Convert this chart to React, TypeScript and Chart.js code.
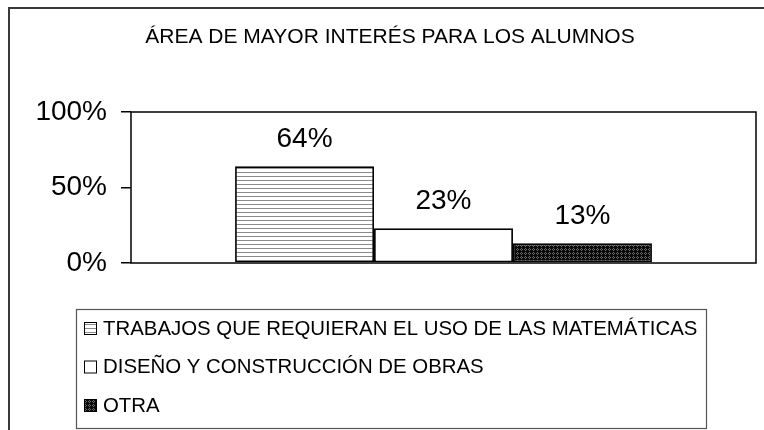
import { useEffect, useRef } from "react";
import { Chart, registerables } from "chart.js";

Chart.register(...registerables);

const categories = ["ÁREA DE MAYOR INTERÉS"];
const seriesNames = [
  "TRABAJOS QUE REQUIERAN EL USO DE LAS MATEMÁTICAS",
  "DISEÑO Y CONSTRUCCIÓN DE OBRAS",
  "OTRA",
];
const seriesValues = [[0.64], [0.23], [0.13]];
const yTickValues = [0, 0.5, 1];
const titleText = "ÁREA DE MAYOR INTERÉS PARA LOS ALUMNOS";

const FONT = "'Liberation Sans', Arial, sans-serif";

function hatchPattern(): CanvasPattern {
  const c = document.createElement("canvas");
  c.width = 4;
  c.height = 4;
  const g = c.getContext("2d")!;
  g.fillStyle = "#ffffff";
  g.fillRect(0, 0, 4, 4);
  g.fillStyle = "#8a8a8a";
  g.fillRect(0, 0, 4, 1);
  return g.createPattern(c, "repeat")!;
}

function dotPattern(): CanvasPattern {
  const c = document.createElement("canvas");
  c.width = 4;
  c.height = 4;
  const g = c.getContext("2d")!;
  g.fillStyle = "#0a0a0a";
  g.fillRect(0, 0, 4, 4);
  g.fillStyle = "#6a6a6a";
  [[1, 0], [0, 1], [2, 1], [1, 2]].forEach(([x, y]) => g.fillRect(x, y, 1, 1));
  return g.createPattern(c, "repeat")!;
}

export default function App() {
  const ref = useRef<HTMLCanvasElement | null>(null);

  useEffect(() => {
    if (!ref.current) return;
    const fills: (CanvasPattern | string)[] = [hatchPattern(), "#ffffff", dotPattern()];

    const framePlugin = {
      id: "frame",
      beforeDraw(chart: any) {
        const ctx = chart.ctx as CanvasRenderingContext2D;
        ctx.save();
        ctx.fillStyle = "#ffffff";
        ctx.fillRect(0, 0, chart.width, chart.height);
        ctx.strokeStyle = "#3a3a3a";
        ctx.lineWidth = 2;
        ctx.beginPath();
        ctx.moveTo(9, chart.height);
        ctx.lineTo(9, 8);
        ctx.lineTo(chart.width, 8);
        ctx.stroke();
        // title
        ctx.fillStyle = "#000";
        ctx.font = `21px ${FONT}`;
        ctx.textAlign = "center";
        ctx.textBaseline = "alphabetic";
        ctx.fillText(titleText, 390, 43);
        ctx.restore();
      },
      afterDatasetsDraw(chart: any) {
        const ctx = chart.ctx as CanvasRenderingContext2D;
        const a = chart.chartArea;
        ctx.save();
        ctx.strokeStyle = "#000";
        ctx.lineWidth = 1.5;
        ctx.strokeRect(a.left, a.top, a.right - a.left, a.bottom - a.top);
        // data labels
        ctx.fillStyle = "#000";
        ctx.font = `28px ${FONT}`;
        ctx.textAlign = "center";
        ctx.textBaseline = "alphabetic";
        chart.data.datasets.forEach((ds: any, i: number) => {
          const meta = chart.getDatasetMeta(i);
          meta.data.forEach((bar: any, j: number) => {
            const v = ds.data[j] as number;
            ctx.fillText(`${Math.round(v * 100)}%`, bar.x, bar.y - 19);
          });
        });
        ctx.restore();
      },
      afterDraw(chart: any) {
        const ctx = chart.ctx as CanvasRenderingContext2D;
        ctx.save();
        // legend box
        ctx.strokeStyle = "#555";
        ctx.lineWidth = 1.2;
        ctx.strokeRect(76.5, 309.5, 630, 119);
        ctx.font = `20.4px ${FONT}`;
        ctx.textAlign = "left";
        ctx.textBaseline = "middle";
        chart.data.datasets.forEach((ds: any, i: number) => {
          const cy = 328 + i * 38.5;
          ctx.fillStyle = ds.backgroundColor;
          ctx.fillRect(84, cy - 6, 13, 13);
          ctx.strokeStyle = "#000";
          ctx.lineWidth = 1;
          ctx.strokeRect(84.5, cy - 5.5, 12, 12);
          ctx.fillStyle = "#000";
          ctx.fillText(ds.label, 103, cy + 1);
        });
        ctx.restore();
      },
    };

    const chart = new Chart(ref.current, {
      type: "bar",
      data: {
        labels: categories,
        datasets: seriesNames.map((name, i) => ({
          label: name,
          data: seriesValues[i],
          backgroundColor: fills[i] as any,
          borderColor: "#000",
          borderWidth: 1.8,
          borderSkipped: false,
          categoryPercentage: 0.667,
          barPercentage: 1,
        })),
      },
      options: {
        animation: false,
        responsive: false,
        maintainAspectRatio: false,
        events: [],
        layout: { padding: { left: 0, right: 8, top: 112, bottom: 167 } },
        plugins: {
          legend: { display: false },
          title: { display: false },
          tooltip: { enabled: false },
        },
        scales: {
          x: { display: false },
          y: {
            min: 0,
            max: 1,
            afterFit: (s: any) => {
              s.width = 131;
            },
            afterBuildTicks: (s: any) => {
              s.ticks = yTickValues.map((v) => ({ value: v }));
            },
            border: { display: false },
            grid: {
              drawOnChartArea: false,
              drawTicks: true,
              tickLength: 10,
              color: "#000",
              lineWidth: 1.5,
            },
            ticks: {
              padding: 14,
              color: "#000",
              font: { family: FONT, size: 28 },
              callback: (v: any) => `${Math.round(Number(v) * 100)}%`,
            },
          },
        },
      },
      plugins: [framePlugin],
    });
    return () => chart.destroy();
  }, []);

  return (
    <div style={{ position: "fixed", left: 0, top: 0, width: 764, height: 430 }}>
      <canvas ref={ref} width={764} height={430} style={{ display: "block" }} />
    </div>
  );
}
